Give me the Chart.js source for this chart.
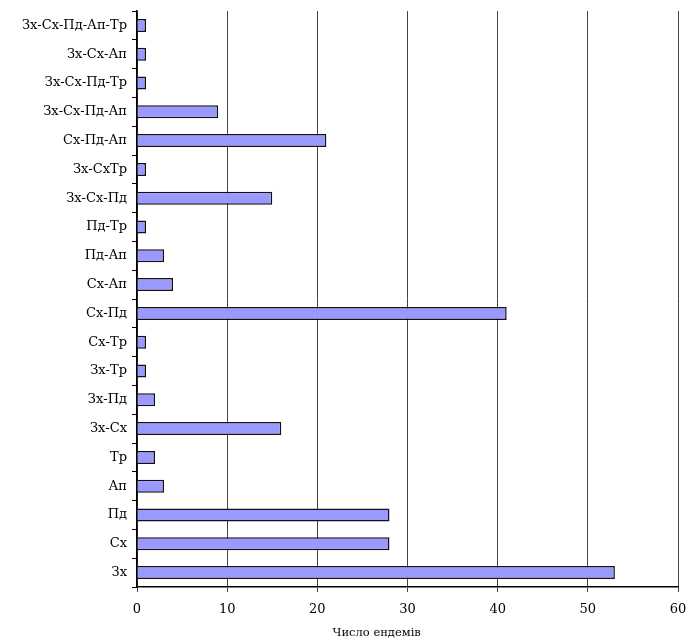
<!DOCTYPE html>
<html>
<head>
<meta charset="utf-8">
<script src="https://cdn.jsdelivr.net/npm/chart.js@4.4.1/dist/chart.umd.min.js"></script>
<style>
  html, body { margin: 0; padding: 0; background: #fff; }
  #wrap { width: 686px; height: 640px; }
</style>
</head>
<body>
<div id="wrap"><canvas id="chart"></canvas></div>
<script>
// регіони, зверху вниз
const categories = [
    'Зх-Сх-Пд-Ап-Тр', 'Зх-Сх-Ап', 'Зх-Сх-Пд-Тр', 'Зх-Сх-Пд-Ап', 'Сх-Пд-Ап',
    'Зх-СхТр', 'Зх-Сх-Пд', 'Пд-Тр', 'Пд-Ап', 'Сх-Ап',
    'Сх-Пд', 'Сх-Тр', 'Зх-Тр', 'Зх-Пд', 'Зх-Сх',
    'Тр', 'Ап', 'Пд', 'Сх', 'Зх'
];
const endemics = [1, 1, 1, 9, 21, 1, 15, 1, 3, 4, 41, 1, 1, 2, 16, 2, 3, 28, 28, 53];
const xTicks = [0, 10, 20, 30, 40, 50, 60];
const xTitle = 'Число ендемів';

const serif = "'DejaVu Serif', 'Liberation Serif', serif";

// підпис осі X трохи лівіше центру, як в оригіналі
const axisTitle = {
    id: 'axisTitle',
    afterDraw(chart) {
        const c = chart.ctx;
        const area = chart.chartArea;
        c.save();
        c.font = '11.5px ' + serif;
        c.fillStyle = '#000';
        c.textAlign = 'center';
        c.textBaseline = 'middle';
        c.fillText(xTitle, area.left + (area.right - area.left) * 0.443, 633);
        c.restore();
    }
};

const ctx = document.getElementById('chart').getContext('2d');
new Chart(ctx, {
    type: 'bar',
    data: {
        labels: categories,
        datasets: [{
            label: xTitle,
            data: endemics,
            backgroundColor: '#9999ff',
            borderColor: '#111',
            borderWidth: 1.5,
            barPercentage: 0.45,
            categoryPercentage: 1
        }]
    },
    options: {
        indexAxis: 'y',
        responsive: true,
        maintainAspectRatio: false,
        animation: false,
        layout: { padding: { left: 0, right: 0, top: 11, bottom: 0 } },
        plugins: {
            legend: { display: false },
            tooltip: { enabled: false }
        },
        scales: {
            x: {
                min: 0,
                max: 60,
                afterBuildTicks: axis => { axis.ticks = xTicks.map(v => ({ value: v })); },
                afterFit: axis => {
                    axis.height = 53;
                    axis.paddingLeft = 0;
                    axis.paddingRight = 8;
                },
                grid: { color: '#444', lineWidth: 1, tickLength: 5 },
                border: { color: '#000', width: 1.5 },
                ticks: { color: '#000', padding: 10, maxRotation: 0, font: { family: serif, size: 13 } }
            },
            y: {
                afterFit: axis => {
                    axis.width = 137;
                    axis.paddingTop = 0;
                    axis.paddingBottom = 0;
                },
                grid: { display: true, drawOnChartArea: false, offset: true, color: '#000', tickLength: 5 },
                border: { color: '#000', width: 1.5 },
                ticks: { color: '#000', padding: 5, autoSkip: false, font: { family: serif, size: 13 } }
            }
        }
    },
    plugins: [axisTitle]
});
</script>
</body>
</html>
